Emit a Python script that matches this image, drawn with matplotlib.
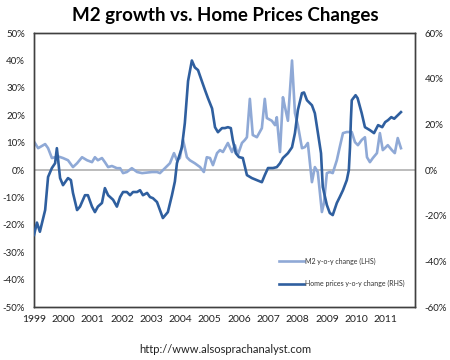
import matplotlib.pyplot as plt
from matplotlib.ticker import FuncFormatter

plt.rcParams['font.family'] = ['Lato', 'DejaVu Sans']

# M2 y-o-y change (left axis, %)
m2_t = [1999.03, 1999.14, 1999.38, 1999.48, 1999.61, 1999.72, 1999.82, 1999.99, 2000.16, 2000.33,
        2000.47, 2000.64, 2000.81, 2000.98, 2001.08, 2001.18, 2001.32, 2001.42, 2001.53, 2001.66,
        2001.83, 2001.94, 2002.04, 2002.17, 2002.34, 2002.52, 2002.69, 2002.86, 2003.03, 2003.20,
        2003.30, 2003.47, 2003.64, 2003.78, 2003.88, 2003.98, 2004.09, 2004.22, 2004.32, 2004.49,
        2004.67, 2004.80, 2004.90, 2005.01, 2005.11, 2005.25, 2005.35, 2005.45, 2005.62, 2005.76,
        2005.86, 2005.96, 2006.10, 2006.20, 2006.27, 2006.37, 2006.47, 2006.61, 2006.78, 2006.88,
        2006.95, 2007.12, 2007.23, 2007.29, 2007.40, 2007.50, 2007.57, 2007.67, 2007.81, 2007.91,
        2008.01, 2008.15, 2008.25, 2008.35, 2008.49, 2008.59, 2008.69, 2008.83, 2008.90, 2009.00,
        2009.10, 2009.20, 2009.34, 2009.44, 2009.55, 2009.68, 2009.85, 2009.96, 2010.06, 2010.19,
        2010.30, 2010.37, 2010.47, 2010.57, 2010.71, 2010.81, 2010.91, 2010.98, 2011.08, 2011.22,
        2011.32, 2011.42, 2011.53]
m2_v = [9.9, 8.0, 9.5, 8.0, 4.4, 4.7, 5.0, 4.4, 3.6, 1.1,
        2.5, 4.7, 3.6, 2.9, 4.7, 3.6, 4.4, 2.9, 1.1, 1.5,
        0.7, 0.7, -1.1, -0.7, 0.7, -0.7, -1.1, -0.9, -0.7, -0.7,
        -1.1, 0.7, 2.5, 6.2, 3.6, 4.4, 11.0, 4.7, 3.6, 2.5,
        1.1, -0.7, 4.7, 4.4, 1.8, 6.2, 7.3, 6.6, 9.9, 6.6,
        9.1, 5.5, 9.9, 11.0, 12.0, 26.0, 12.8, 12.0, 15.3, 26.0,
        19.0, 18.0, 16.4, 19.3, 6.6, 26.6, 23.0, 18.0, 40.0, 20.8,
        16.4, 8.0, 8.4, 9.9, -4.4, 1.1, -0.7, -15.3, -12.0, -1.1,
        -0.7, -1.1, 3.6, 8.4, 13.5, 13.9, 13.9, 10.2, 9.1, 11.0,
        12.0, 4.7, 2.9, 4.4, 6.2, 13.5, 7.3, 8.0, 9.1, 7.3,
        6.2, 11.7, 8.0]

# Home prices y-o-y change (right axis, %)
hp_t = [1999.00, 1999.10, 1999.20, 1999.38, 1999.44, 1999.48, 1999.61, 1999.72, 1999.78, 1999.89,
        1999.99, 2000.16, 2000.26, 2000.33, 2000.47, 2000.57, 2000.74, 2000.84, 2000.98, 2001.08,
        2001.18, 2001.32, 2001.42, 2001.53, 2001.70, 2001.83, 2001.94, 2002.04, 2002.17, 2002.28,
        2002.38, 2002.52, 2002.62, 2002.72, 2002.86, 2002.96, 2003.06, 2003.20, 2003.30, 2003.40,
        2003.57, 2003.71, 2003.81, 2003.88, 2004.05, 2004.15, 2004.26, 2004.39, 2004.49, 2004.60,
        2004.73, 2004.84, 2004.94, 2005.08, 2005.18, 2005.28, 2005.42, 2005.52, 2005.62, 2005.72,
        2005.79, 2005.89, 2006.00, 2006.13, 2006.27, 2006.44, 2006.61, 2006.78, 2006.88, 2006.99,
        2007.16, 2007.29, 2007.40, 2007.50, 2007.67, 2007.81, 2007.91, 2008.01, 2008.15, 2008.22,
        2008.32, 2008.49, 2008.59, 2008.69, 2008.80, 2008.86, 2009.00, 2009.10, 2009.20, 2009.34,
        2009.44, 2009.55, 2009.68, 2009.75, 2009.79, 2009.82, 2009.85, 2009.98, 2010.05, 2010.19,
        2010.30, 2010.47, 2010.61, 2010.75, 2010.89, 2010.99, 2011.09, 2011.20, 2011.30, 2011.53]
hp_v = [-28.4, -23.0, -27.0, -17.5, -8.8, -3.0, 0.9, 3.0, 9.6, -3.5,
        -6.6, -3.5, -4.4, -10.0, -17.5, -16.0, -11.0, -11.0, -16.0, -18.4,
        -16.0, -14.4, -7.9, -11.0, -13.0, -16.0, -11.8, -9.6, -9.6, -11.0,
        -9.6, -9.6, -8.8, -11.0, -10.0, -11.8, -12.3, -14.0, -17.5, -21.0,
        -18.4, -11.0, -5.0, 3.0, 10.0, 20.6, 39.0, 48.0, 45.0, 43.8,
        39.0, 35.0, 31.5, 27.0, 18.8, 16.6, 18.4, 18.4, 18.8, 18.4,
        13.0, 7.4, 5.7, 5.3, -2.2, -3.5, -4.4, -5.3, -2.2, 0.9,
        0.9, 1.3, 3.0, 5.3, 7.4, 10.0, 16.2, 26.3, 33.7, 34.0,
        30.6, 28.4, 24.9, 16.6, 7.4, -7.4, -15.3, -18.8, -19.7, -14.4,
        -11.8, -8.8, -4.4, 0.0, 10.0, 22.0, 30.6, 32.8, 31.5, 24.9,
        18.8, 17.5, 16.2, 19.7, 18.8, 21.0, 21.9, 23.2, 22.5, 25.4]

years = list(range(1999, 2012))
left_ticks = list(range(-50, 51, 10))
right_ticks = list(range(-60, 61, 20))

light = '#8fa9d6'
dark = '#2f5f9f'
pct = FuncFormatter(lambda v, p: '%d%%' % v)

fig = plt.figure(figsize=(4.5, 3.6), dpi=100)
ax = fig.add_axes([0.0756, 0.147, 0.846, 0.761])
ax2 = ax.twinx()

ax.axhline(0, color='#b0b0b0', lw=1.2, zorder=1)
l1, = ax.plot(m2_t, m2_v, color=light, lw=1.9, label='M2 y-o-y change (LHS)', zorder=2)
l2, = ax2.plot(hp_t, hp_v, color=dark, lw=1.9, label='Home prices y-o-y change (RHS)', zorder=3)

ax.set_xlim(1999, 2012)
ax.set_ylim(-50, 50)
ax2.set_ylim(-60, 60)
ax.set_xticks(years)
ax.set_xticklabels([str(y) for y in years])
ax.set_yticks(left_ticks)
ax2.set_yticks(right_ticks)
ax.yaxis.set_major_formatter(pct)
ax2.yaxis.set_major_formatter(pct)

for a in (ax, ax2):
    a.tick_params(length=0, labelsize=7, colors='#222222')
    for s in a.spines.values():
        s.set_color('#404040')
        s.set_linewidth(1.0)
ax.tick_params(axis='y', pad=6.5)
ax2.tick_params(axis='y', pad=7)
ax.tick_params(axis='x', pad=6, labelsize=7.5)

ax2.legend(handles=[l1, l2], loc='lower right', bbox_to_anchor=(0.99, 0.05),
           frameon=False, fontsize=5, handlelength=3.5, labelspacing=2.2,
           handletextpad=0.2, labelcolor='#333333')

fig.text(0.5, 0.958, 'M2 growth vs. Home Prices Changes', ha='center', va='center',
         fontsize=13.5, fontweight='bold', color='black')
fig.text(0.5, 0.03, 'http://www.alsosprachanalyst.com', ha='center', va='center',
         fontsize=8, color='#222222')

fig.savefig('out.png', dpi=100)
